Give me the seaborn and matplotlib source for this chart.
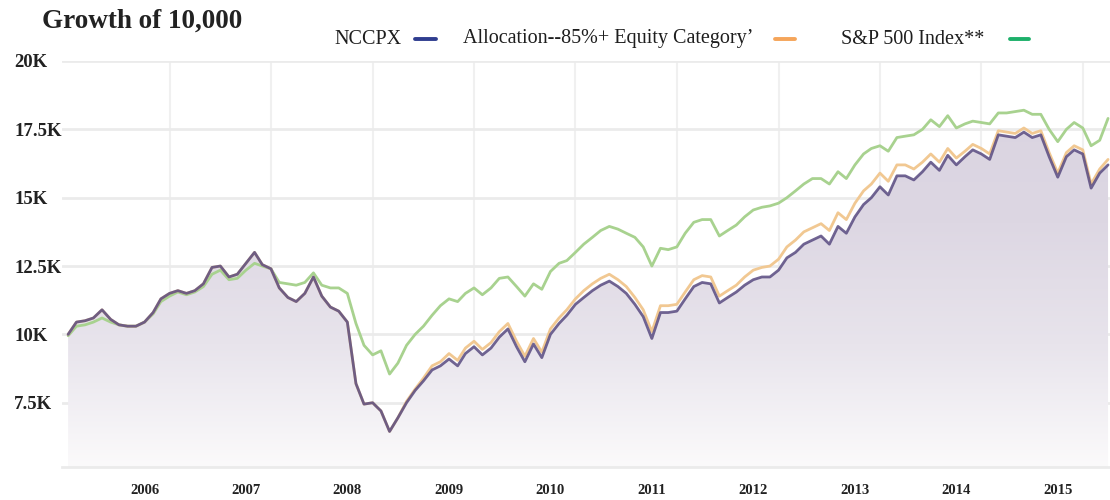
import numpy as np
import pandas as pd
import seaborn as sns
import matplotlib.pyplot as plt
import matplotlib.dates as mdates
from matplotlib.lines import Line2D
from matplotlib.colors import LinearSegmentedColormap
from matplotlib.ticker import FuncFormatter, FixedLocator

# monthly values, growth of 10,000 (in thousands), Apr 2005 .. Jul 2015
nccpx = [10.0, 10.45, 10.5, 10.6, 10.9, 10.55, 10.35, 10.3, 10.3, 10.45, 10.8, 11.3,
         11.5, 11.6, 11.5, 11.6, 11.85, 12.45, 12.5, 12.1, 12.2, 12.6, 13.0, 12.55,
         12.4, 11.7, 11.35, 11.2, 11.5, 12.1, 11.4, 11.0, 10.85, 10.45, 8.2, 7.45,
         7.5, 7.2, 6.45, 6.95, 7.5, 7.95, 8.3, 8.7, 8.85, 9.1, 8.85, 9.3,
         9.55, 9.25, 9.5, 9.9, 10.2, 9.55, 9.0, 9.65, 9.15, 10.0, 10.4, 10.7,
         11.1, 11.35, 11.6, 11.8, 11.95, 11.75, 11.5, 11.1, 10.65, 9.85, 10.8, 10.8,
         10.85, 11.3, 11.75, 11.9, 11.85, 11.15, 11.35, 11.55, 11.8, 12.0, 12.1, 12.1,
         12.35, 12.8, 13.0, 13.3, 13.45, 13.6, 13.3, 13.95, 13.7, 14.3, 14.75, 15.0,
         15.4, 15.1, 15.8, 15.8, 15.65, 15.95, 16.3, 16.0, 16.55, 16.2, 16.5, 16.75,
         16.6, 16.4, 17.3, 17.25, 17.2, 17.4, 17.2, 17.3, 16.5, 15.75, 16.5, 16.75,
         16.6, 15.35, 15.9, 16.2]

category = [10.0, 10.45, 10.5, 10.6, 10.9, 10.55, 10.35, 10.3, 10.3, 10.45, 10.8, 11.3,
            11.5, 11.6, 11.5, 11.6, 11.85, 12.45, 12.5, 12.1, 12.2, 12.6, 13.0, 12.55,
            12.4, 11.7, 11.35, 11.2, 11.5, 12.1, 11.4, 11.0, 10.85, 10.45, 8.2, 7.45,
            7.5, 7.2, 6.45, 6.95, 7.55, 8.0, 8.4, 8.85, 9.0, 9.3, 9.05, 9.5,
            9.75, 9.45, 9.7, 10.1, 10.4, 9.75, 9.2, 9.85, 9.35, 10.2, 10.6, 10.9,
            11.3, 11.6, 11.85, 12.05, 12.2, 12.0, 11.75, 11.35, 10.9, 10.1, 11.05, 11.05,
            11.1, 11.55, 12.0, 12.15, 12.1, 11.4, 11.6, 11.8, 12.1, 12.35, 12.45, 12.5,
            12.75, 13.2, 13.45, 13.75, 13.9, 14.05, 13.8, 14.45, 14.2, 14.8, 15.25, 15.5,
            15.9, 15.6, 16.2, 16.2, 16.05, 16.3, 16.6, 16.3, 16.8, 16.45, 16.7, 16.95,
            16.8, 16.6, 17.45, 17.4, 17.35, 17.55, 17.35, 17.45, 16.65, 15.9, 16.65, 16.9,
            16.75, 15.5, 16.05, 16.4]

sp500 = [9.95, 10.3, 10.35, 10.45, 10.6, 10.45, 10.35, 10.3, 10.3, 10.45, 10.75, 11.2,
         11.4, 11.55, 11.45, 11.55, 11.75, 12.2, 12.35, 12.0, 12.05, 12.35, 12.6, 12.5,
         12.4, 11.9, 11.85, 11.8, 11.9, 12.25, 11.8, 11.7, 11.7, 11.5, 10.4, 9.6,
         9.25, 9.4, 8.55, 8.95, 9.6, 10.0, 10.3, 10.7, 11.05, 11.3, 11.2, 11.5,
         11.7, 11.45, 11.7, 12.05, 12.1, 11.75, 11.4, 11.85, 11.65, 12.3, 12.6, 12.7,
         13.0, 13.3, 13.55, 13.8, 13.95, 13.85, 13.7, 13.55, 13.2, 12.5, 13.15, 13.1,
         13.2, 13.7, 14.1, 14.2, 14.2, 13.6, 13.8, 14.0, 14.3, 14.55, 14.65, 14.7,
         14.8, 15.0, 15.25, 15.5, 15.7, 15.7, 15.5, 15.95, 15.7, 16.2, 16.6, 16.8,
         16.9, 16.7, 17.2, 17.25, 17.3, 17.5, 17.85, 17.6, 18.0, 17.55, 17.7, 17.8,
         17.75, 17.7, 18.1, 18.1, 18.15, 18.2, 18.05, 18.05, 17.5, 17.05, 17.5, 17.75,
         17.55, 16.9, 17.1, 17.9]

y_ticks = [7.5, 10, 12.5, 15, 17.5, 20]
years = list(range(2006, 2016))
names = ["NCCPX", "Allocation--85%+ Equity Category\u2019", "S&P 500 Index**"]
legend_colors = ["#2f3d8f", "#f5a55a", "#1db06a"]

dates = pd.date_range("2005-04-01", periods=len(nccpx), freq="MS")
df = pd.DataFrame({"date": dates, "nccpx": nccpx, "category": category, "sp500": sp500})

sns.set_theme(style="white")
plt.rcParams["font.family"] = ["Liberation Serif", "DejaVu Serif"]

fig = plt.figure(figsize=(11.1, 5.0), dpi=100)
ax = fig.add_axes([62 / 1110, 33 / 500, 1 - 62 / 1110, 406 / 500])

ymin, ymax = 5.15, 20.0

# gradient fill under the fund line
fill = ax.fill_between(df["date"], df["nccpx"], ymin, color="none", lw=0)
x0, x1 = mdates.date2num(pd.Timestamp("2005-03-10")), mdates.date2num(pd.Timestamp("2015-07-08"))
grad = np.linspace(0, 1, 256).reshape(-1, 1)
cmap = LinearSegmentedColormap.from_list(
    "g", [(0, "#fbfafb"), (0.3, "#e8e4ec"), (0.6, "#ddd7e3"), (1, "#d9d3e0")])
img = ax.imshow(grad, cmap=cmap, aspect="auto", origin="lower",
                extent=[x0, x1, ymin, ymax], zorder=1)
img.set_clip_path(fill.get_paths()[0], transform=ax.transData)

sns.lineplot(data=df, x="date", y="sp500", ax=ax, color="#a8d28f", lw=2.0, zorder=3)
sns.lineplot(data=df, x="date", y="category", ax=ax, color="#f1c892", lw=2.0, zorder=4)
sns.lineplot(data=df, x="date", y="nccpx", ax=ax, color="#584a80", lw=2.0, alpha=0.85, zorder=5)

ax.set_xlim(x0, x1)
ax.set_ylim(ymin, ymax)
ax.set_xlabel("")
ax.set_ylabel("")

ax.yaxis.set_major_locator(FixedLocator(y_ticks))
ax.yaxis.set_major_formatter(FuncFormatter(lambda v, p: f"{v:g}K"))
ax.grid(axis="y", color="#ebebeb", lw=2.0, zorder=0)

ax.xaxis.set_major_locator(FixedLocator([mdates.date2num(pd.Timestamp(f"{y}-01-01")) for y in years]))
ax.xaxis.set_major_formatter(FuncFormatter(lambda v, p: mdates.num2date(v).strftime("%Y")))
ax.xaxis.set_minor_locator(FixedLocator([mdates.date2num(pd.Timestamp(f"{y}-04-01")) for y in years]))
ax.grid(axis="x", which="minor", color="#f0f0f0", lw=1.5, zorder=0)
ax.grid(axis="x", which="major", visible=False)
ax.set_axisbelow(True)

ax.tick_params(axis="both", which="both", length=0)
ax.tick_params(axis="y", pad=34.5, labelsize=13.5, labelcolor="#222222")
ax.tick_params(axis="x", pad=12, labelsize=10.5, labelcolor="#222222")
for t in ax.get_yticklabels():
    t.set_horizontalalignment("left")
    t.set_fontweight("bold")
for t in ax.get_xticklabels():
    t.set_fontweight("bold")

for s in ["top", "right", "left"]:
    ax.spines[s].set_visible(False)
ax.spines["bottom"].set_color("#ebebeb")
ax.spines["bottom"].set_linewidth(2)

fig.text(42 / 1110, 1 - 21 / 500, "Growth of 10,000", ha="left", va="center",
         fontsize=19.5, fontweight="bold", color="#222222")

# legend: label followed by a short dash
label_x = [334, 463, 841]
dash_x = [(415, 436), (775, 795), (1010, 1029)]
ly = 1 - 39 / 500
for name, lx, (d0, d1), c in zip(names, label_x, dash_x, legend_colors):
    fig.text(lx / 1110, ly, name, ha="left", va="center", fontsize=14.5, color="#1e1e1e")
    fig.add_artist(Line2D([d0 / 1110, d1 / 1110], [ly, ly], color=c, lw=2.8,
                          transform=fig.transFigure))

fig.savefig("out.png", dpi=100)
